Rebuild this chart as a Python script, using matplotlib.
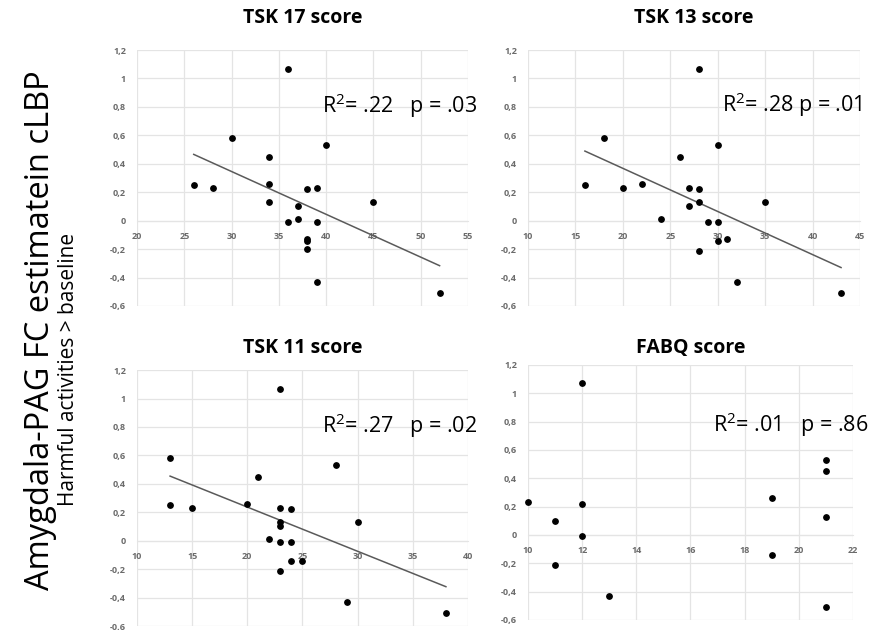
import matplotlib
matplotlib.use("Agg")
import matplotlib.pyplot as plt
import matplotlib.ticker as ticker
import numpy as np

plt.rcParams['font.family'] = ['Open Sans', 'DejaVu Sans']

# FC estimate (y) shared by the TSK panels
fc = [0.25, 0.23, 0.58, 0.45, 0.26, 0.13, 1.07, -0.01, 0.10, 0.01,
      0.22, -0.13, -0.14, -0.20, 0.23, -0.01, -0.43, 0.53, 0.13, -0.51]
tsk17 = [26, 28, 30, 34, 34, 34, 36, 36, 37, 37,
         38, 38, 38, 38, 39, 39, 39, 40, 45, 52]

tsk13_x = [16, 18, 20, 22, 24, 26, 27, 27, 28, 28,
           28, 28, 29, 30, 30, 30, 31, 32, 35, 43]
tsk13_y = [0.25, 0.58, 0.23, 0.26, 0.01, 0.45, 0.23, 0.10, 1.07, 0.22,
           0.13, -0.21, -0.01, 0.53, -0.01, -0.14, -0.13, -0.43, 0.13, -0.51]

tsk11_x = [13, 13, 15, 20, 21, 22, 23, 23, 23, 23,
           23, 23, 24, 24, 24, 25, 28, 29, 30, 38]
tsk11_y = [0.58, 0.25, 0.23, 0.26, 0.45, 0.01, 1.07, 0.23, 0.13, 0.10,
           -0.01, -0.21, 0.22, -0.01, -0.14, -0.14, 0.53, -0.43, 0.13, -0.51]

fabq_x = [10, 11, 11, 12, 12, 12, 13, 19, 19, 21, 21, 21, 21]
fabq_y = [0.23, 0.10, -0.21, 1.07, 0.22, -0.01, -0.43, 0.26, -0.14,
          0.53, 0.45, 0.13, -0.51]

titles = ["TSK 17 score", "TSK 13 score", "TSK 11 score", "FABQ score"]
r2 = [".22", ".28", ".27", ".01"]
pv = [".03", ".01", ".02", ".86"]
gaps = ["   ", " ", "   ", "   "]

panels = [
    # x, y, xlim, xstep, trend, rect, text pos, title y (px)
    (tsk17, fc, (20, 55), 5, True, [0.1541, 0.5143, 0.3723, 0.4063], (0.559, 0.754), 18),
    (tsk13_x, tsk13_y, (10, 45), 5, True, [0.5939, 0.5143, 0.3735, 0.4063], (0.584, 0.758), 18),
    (tsk11_x, tsk11_y, (10, 40), 5, True, [0.1541, 0.0063, 0.3723, 0.4063], (0.559, 0.754), 348),
    (fabq_x, fabq_y, (10, 22), 2, False, [0.5939, 0.0159, 0.3656, 0.4048], (0.569, 0.737), 348),
]

fig = plt.figure(figsize=(8.89, 6.3), dpi=100)

def comma(v, pos):
    s = "%g" % round(v, 1)
    return s.replace(".", ",")

for i, (x, y, xl, step, trend, rect, tp, tpx) in enumerate(panels):
    ax = fig.add_axes(rect)
    ax.set_xlim(*xl)
    ax.set_ylim(-0.6, 1.2)
    ax.xaxis.set_major_locator(ticker.MultipleLocator(step))
    ax.yaxis.set_major_locator(ticker.MultipleLocator(0.2))
    ax.yaxis.set_major_formatter(ticker.FuncFormatter(comma))
    ax.grid(True, color="#e4e4e4", linewidth=0.9)
    ax.set_axisbelow(True)
    for s in ["top", "right", "left"]:
        ax.spines[s].set_visible(False)
    ax.spines["bottom"].set_position(("data", 0))
    ax.spines["bottom"].set_color("#e4e4e4")
    ax.spines["bottom"].set_zorder(1)
    ax.tick_params(length=0, labelsize=6.5, labelcolor="#6b6b6b")
    ax.tick_params(axis="x", pad=8)
    ax.tick_params(axis="y", pad=8)
    for lab in ax.get_xticklabels() + ax.get_yticklabels():
        lab.set_fontweight("bold")
    ax.scatter(x, y, s=15, color="black", zorder=5, clip_on=False)
    if trend:
        k, b = np.polyfit(x, y, 1)
        xs = np.array([min(x), max(x)])
        ax.plot(xs, k * xs + b, color="#5a5a5a", linewidth=1.1, zorder=4)
    label = "R$^\\mathregular{2}$= " + r2[i] + gaps[i] + "p = " + pv[i]
    ax.text(tp[0], tp[1], label, transform=ax.transAxes, fontsize=15.5,
            va="baseline", ha="left", clip_on=False)
    cx = rect[0] + rect[2] / 2
    fig.text(cx, 1 - tpx / 630, titles[i], ha="center", va="center",
             fontsize=14, fontweight="bold")

fig.text(0.045, 0.476, "Amygdala-PAG FC estimatein cLBP", rotation=90,
         ha="center", va="center", fontsize=23.5)
fig.text(0.0765, 0.413, "Harmful activities > baseline", rotation=90,
         ha="center", va="center", fontsize=15)

plt.savefig("out.png", dpi=100)
